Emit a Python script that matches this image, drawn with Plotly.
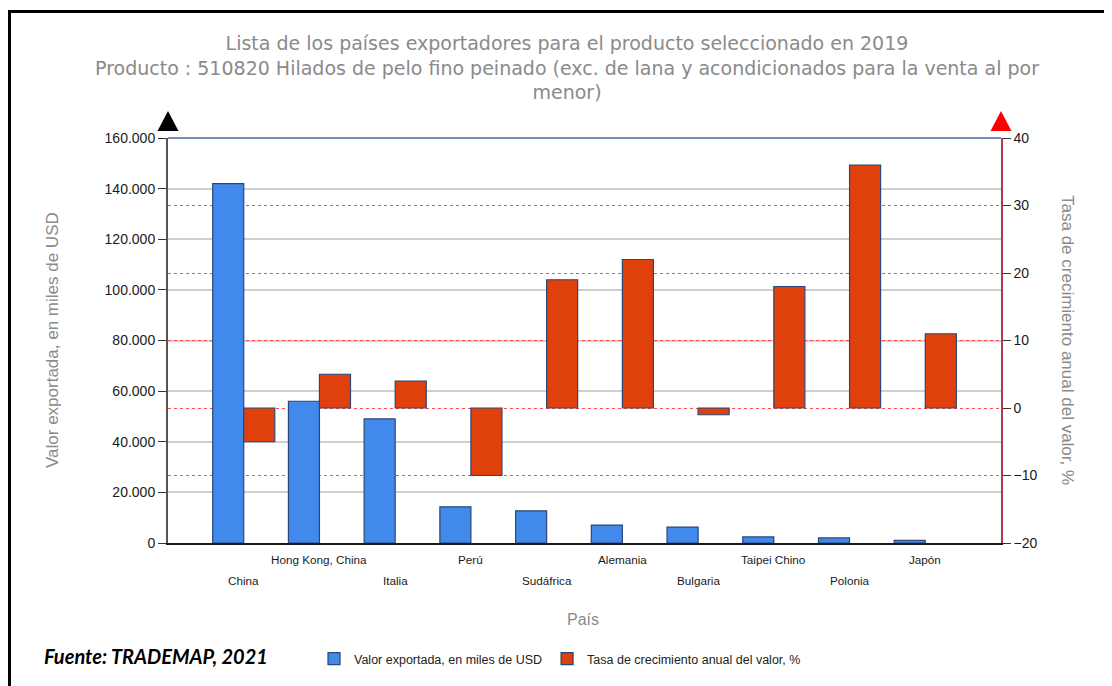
import plotly.graph_objects as go

paises = ["China", "Hong Kong, China", "Italia", "Perú", "Sudáfrica",
          "Alemania", "Bulgaria", "Taipei Chino", "Polonia", "Japón"]
valor_exportado = [142000, 56000, 49000, 14300, 12700, 7100, 6300, 2400, 2000, 1000]
tasa_crecimiento = [-5, 5, 4, -10, 19, 22, -1, 18, 36, 11]
left_ticks = [0, 20000, 40000, 60000, 80000, 100000, 120000, 140000, 160000]
right_ticks = [-20, -10, 0, 10, 20, 30, 40]

OFF = 8  # page body margin
SW, SH = 1112, 686
W, H = SW - OFF, SH - OFF
L, R, T, B = 168, 1001, 138, 543  # plot area in screen pixels

def px(x):
    return (x - L) / (R - L)

def py(y):
    return (B - y) / (B - T)

idx = list(range(len(paises)))

fig = go.Figure()
fig.add_trace(go.Bar(
    x=idx, y=valor_exportado, name="Valor exportada, en miles de USD",
    offset=-0.41, width=0.41,
    marker=dict(color="#418AEB", line=dict(color="#2b4677", width=1.2)),
    yaxis="y",
))
fig.add_trace(go.Bar(
    x=idx, y=tasa_crecimiento, name="Tasa de crecimiento anual del valor, %",
    offset=0, width=0.41,
    marker=dict(color="#E0410C", line=dict(color="#2b4677", width=1.2)),
    yaxis="y2",
))

tickfont = dict(family="Liberation Sans, Arial", size=14, color="#1a1a1a")

fig.update_layout(
    width=W, height=H,
    margin=dict(l=L - OFF, r=SW - R, t=T - OFF, b=SH - B, pad=0),
    paper_bgcolor="white", plot_bgcolor="white",
    separators=",.",
    showlegend=True,
    barmode="overlay",
    title=dict(
        text="Lista de los países exportadores para el producto seleccionado en 2019<br>"
             "Producto : 510820 Hilados de pelo fino peinado (exc. de lana y acondicionados para la venta al por<br>"
             "menor)",
        font=dict(family="DejaVu Sans", size=19, color="#8a8a8a"),
        x=(567 - OFF) / W, xanchor="center", xref="container",
        y=1 - 42 / H, yanchor="top", yref="container",
    ),
    xaxis=dict(
        range=[-1, 10], showticklabels=False, showgrid=False, zeroline=False,
        showline=True, linecolor="#1a1a1a", linewidth=1.5, ticks="",
        fixedrange=True,
    ),
    yaxis=dict(
        range=[0, 160000], tickvals=left_ticks, tickformat=",.0f",
        tickfont=tickfont, ticks="outside", ticklen=8, tickcolor="#333",
        showline=True, linecolor="#555", linewidth=2,
        showgrid=True, gridcolor="#cfcfcf", gridwidth=1.5, zeroline=False,
    ),
    yaxis2=dict(
        range=[-20, 40], tickvals=right_ticks, overlaying="y", side="right",
        tickfont=tickfont, ticks="outside", ticklen=8, tickcolor="#333",
        showline=True, linecolor="#b03a50", linewidth=1.5,
        showgrid=True, gridcolor="#ff4d4d", griddash="dot", gridwidth=1,
        zeroline=False,
    ),
    legend=dict(
        orientation="h", x=px(314), xanchor="left", y=py(659), yanchor="middle",
        font=dict(family="Liberation Sans, Arial", size=12.5, color="#222"),
        itemwidth=30, tracegroupgap=0, bgcolor="rgba(0,0,0,0)",
    ),
)

annotations = []
for i, name in enumerate(paises):
    yy = 559 if i % 2 == 1 else 580
    annotations.append(dict(
        x=i, xref="x", y=py(yy), yref="paper", text=name, showarrow=False,
        xanchor="center", yanchor="middle",
        font=dict(family="Liberation Sans Narrow, Liberation Sans, Arial", size=11.7, color="#1a1a1a"),
    ))
annotations += [
    dict(x=px(583), y=py(619), xref="paper", yref="paper", text="País", showarrow=False,
         xanchor="center", yanchor="middle",
         font=dict(family="Liberation Sans, Arial", size=16, color="#8a8a8a")),
    dict(x=px(52), y=py(340), xref="paper", yref="paper", text="Valor exportada, en miles de USD",
         showarrow=False, textangle=-90, xanchor="center", yanchor="middle",
         font=dict(family="Liberation Sans, Arial", size=17, color="#8a8a8a")),
    dict(x=px(1068), y=py(340), xref="paper", yref="paper", text="Tasa de crecimiento anual del valor, %",
         showarrow=False, textangle=90, xanchor="center", yanchor="middle",
         font=dict(family="Liberation Sans, Arial", size=17, color="#8a8a8a")),
    dict(x=px(42), y=py(656), xref="paper", yref="paper", xanchor="left", yanchor="middle",
         text="<b><i>Fuente: TRADEMAP, 2021</i></b>", showarrow=False,
         font=dict(family="Lato, Liberation Sans", size=20, color="#000")),
]
fig.update_layout(annotations=annotations)

def tri(cx, color):
    x0, x1, xm = px(cx - 10.5), px(cx + 10.5), px(cx)
    y0, y1 = py(131), py(111)
    return dict(type="path", xref="paper", yref="paper",
                path=f"M {x0} {y0} L {x1} {y0} L {xm} {y1} Z",
                fillcolor=color, line=dict(width=0))

shapes = [
    dict(type="line", xref="paper", yref="paper", x0=0, x1=1, y0=1, y1=1,
         line=dict(color="#4a6a9a", width=1.5)),
    tri(168, "black"),
    tri(1001, "#ff0000"),
    dict(type="line", xref="paper", yref="paper", x0=px(8), x1=px(1112), y0=py(11.5), y1=py(11.5),
         line=dict(color="black", width=3)),
    dict(type="line", xref="paper", yref="paper", x0=px(9.5), x1=px(9.5), y0=py(10), y1=py(690),
         line=dict(color="black", width=3)),
]
fig.update_layout(shapes=shapes)

fig.write_html("out.html")
